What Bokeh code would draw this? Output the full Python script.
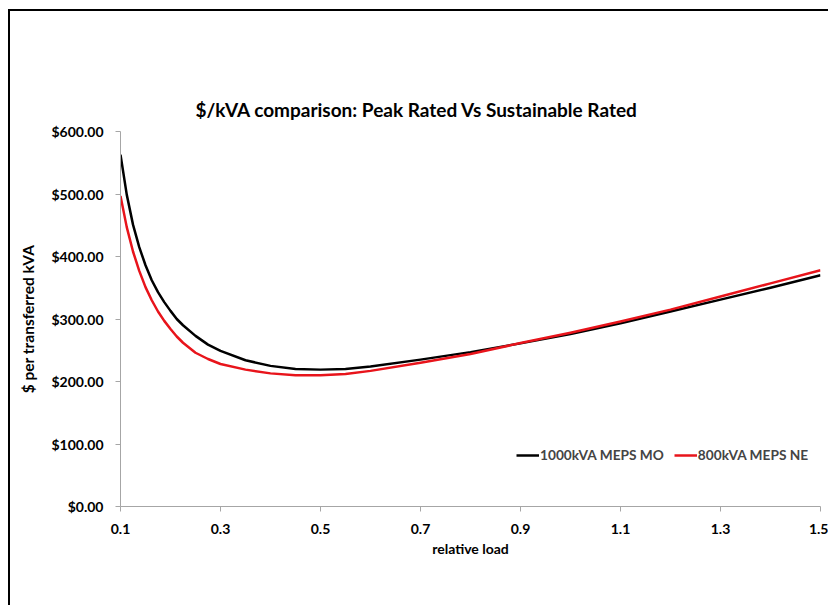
import re
from bokeh.plotting import figure
from bokeh.models import Range1d, Legend, LegendItem, FixedTicker
from bokeh.embed import file_html
from bokeh.resources import INLINE

# ---- data ----
relative_load = [0.1000, 0.1125, 0.1250, 0.1375, 0.1500, 0.1625, 0.1750, 0.1875,
                 0.2000, 0.2125, 0.2250, 0.2500, 0.2750, 0.3000, 0.3500, 0.4000,
                 0.4500, 0.5000, 0.5500, 0.6000, 0.7000, 0.8000, 0.9000, 1.0000,
                 1.1000, 1.2000, 1.3000, 1.4000, 1.5000]
mo_1000kva = [563, 499, 451, 415, 386, 362, 343, 327,
              313, 300, 290, 273, 259, 249, 234, 225,
              220, 219, 220, 224, 235, 247, 261, 276,
              293, 312, 331, 350, 370]
ne_800kva = [497, 447, 408, 377, 351, 330, 312, 297,
             284, 272, 262, 246, 236, 228, 219, 213,
             210, 210, 212, 217, 230, 244, 261.5, 278,
             296, 315, 336, 357, 378]
series_names = ["1000kVA MEPS MO", "800kVA MEPS NE"]
x_ticks = [0.1, 0.3, 0.5, 0.7, 0.9, 1.1, 1.3, 1.5]
x_tick_labels = ["0.1", "0.3", "0.5", "0.7", "0.9", "1.1", "1.3", "1.5"]
y_ticks = [0, 100, 200, 300, 400, 500, 600]
y_tick_labels = ["$0.00", "$100.00", "$200.00", "$300.00", "$400.00", "$500.00", "$600.00"]

FONT = "Lato"

p = figure(width=820, height=596, output_backend="svg", toolbar_location=None,
           x_range=Range1d(0.1, 1.5), y_range=Range1d(0, 600),
           min_border_left=110, min_border_right=10, min_border_top=120,
           min_border_bottom=101,
           title="$/kVA comparison: Peak Rated Vs Sustainable Rated")
p.margin = (9, 0, 0, 8)
p.styles = {"border-top": "2px solid #000", "border-left": "2px solid #000"}
p.background_fill_color = "white"
p.border_fill_color = "white"
p.outline_line_color = None
p.xgrid.grid_line_color = None
p.ygrid.grid_line_color = None

p.title.align = "left"
p.title.offset = 75
p.title.standoff = 22
p.title.text_font = FONT
p.title.text_font_size = "19px"
p.title.text_font_style = "bold"
p.title.text_color = "black"

for ax in (p.xaxis[0], p.yaxis[0]):
    ax.axis_line_color = "#a6a6a6"
    ax.major_tick_line_color = "#a6a6a6"
    ax.major_tick_out = 5
    ax.major_tick_in = 0
    ax.minor_tick_line_color = None
    ax.major_label_text_font = FONT
    ax.major_label_text_font_size = "14px"
    ax.major_label_text_font_style = "bold"
    ax.major_label_text_color = "black"
    ax.axis_label_text_font = FONT
    ax.axis_label_text_font_style = "bold"
    ax.axis_label_text_color = "black"

p.xaxis.ticker = FixedTicker(ticks=x_ticks)
p.xaxis.major_label_overrides = dict(zip(x_ticks, x_tick_labels))
p.xaxis.major_label_standoff = 12
p.xaxis.axis_label = "relative load"
p.xaxis.axis_label_text_font_size = "14px"
p.xaxis.axis_label_standoff = 3

p.yaxis.ticker = FixedTicker(ticks=y_ticks)
p.yaxis.major_label_standoff = 12
p.yaxis.major_label_overrides = dict(zip(y_ticks, y_tick_labels))
p.yaxis.axis_label = "$ per transferred kVA"
p.yaxis.axis_label_text_font_size = "15.5px"
p.yaxis.axis_label_standoff = 11

r1 = p.line(relative_load, mo_1000kva, line_color="black", line_width=2.5,
            line_join="round")
r2 = p.line(relative_load, ne_800kva, line_color="#e8141b", line_width=2.5,
            line_join="round")

legend = Legend(items=[LegendItem(label=series_names[0], renderers=[r1]),
                       LegendItem(label=series_names[1], renderers=[r2])],
                orientation="horizontal", location=(396, 43),
                label_text_font=FONT, label_text_font_size="13.7px",
                label_text_font_style="bold", label_standoff=1,
                glyph_width=23, glyph_height=16, spacing=10, padding=0,
                margin=0, border_line_color=None, background_fill_alpha=0)
p.add_layout(legend, "center")

html = file_html(p, INLINE)
html = re.sub(r"<body[^>]*>",
              '<body style="margin:0;background:#ebebeb;overflow:hidden">',
              html, count=1)
open("out.html", "w").write(html)
